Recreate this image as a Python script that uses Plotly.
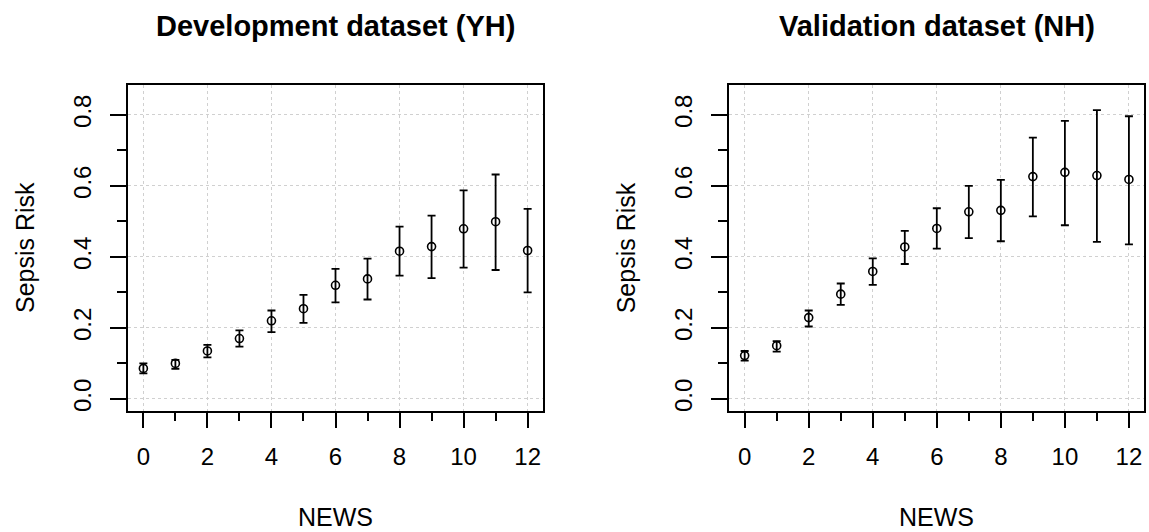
import plotly.graph_objects as go

news = [0, 1, 2, 3, 4, 5, 6, 7, 8, 9, 10, 11, 12]

dev_mean = [0.086, 0.100, 0.135, 0.170, 0.220, 0.254, 0.320, 0.338, 0.416, 0.429, 0.479, 0.499, 0.418]
dev_lower = [0.072, 0.085, 0.117, 0.147, 0.188, 0.214, 0.272, 0.280, 0.347, 0.340, 0.370, 0.363, 0.300]
dev_upper = [0.100, 0.110, 0.152, 0.193, 0.249, 0.293, 0.366, 0.395, 0.485, 0.516, 0.587, 0.632, 0.535]

val_mean = [0.122, 0.150, 0.229, 0.295, 0.359, 0.428, 0.480, 0.527, 0.531, 0.626, 0.638, 0.629, 0.618]
val_lower = [0.108, 0.133, 0.204, 0.265, 0.321, 0.380, 0.423, 0.453, 0.444, 0.514, 0.489, 0.442, 0.435]
val_upper = [0.135, 0.163, 0.249, 0.325, 0.396, 0.473, 0.537, 0.600, 0.617, 0.736, 0.783, 0.813, 0.796]

titles = ["Development dataset (YH)", "Validation dataset (NH)"]
x_label = "NEWS"
y_label = "Sepsis Risk"
x_ticks = [0, 2, 4, 6, 8, 10, 12]
y_ticks = [0.0, 0.2, 0.4, 0.6, 0.8]
y_ticklabels = ["0.0", "0.2", "0.4", "0.6", "0.8"]

W, H = 1149, 532
FONT = "Liberation Sans, Arial, sans-serif"

fig = go.Figure()

panels = [
    (dev_mean, dev_lower, dev_upper, "x", "y"),
    (val_mean, val_lower, val_upper, "x2", "y2"),
]
for mean, lo, hi, xa, ya in panels:
    fig.add_trace(go.Scatter(
        x=news, y=mean, mode="markers", xaxis=xa, yaxis=ya,
        marker=dict(symbol="circle-open", size=8, color="black", line=dict(width=1.6, color="black")),
        error_y=dict(type="data", symmetric=False,
                     array=[h - m for h, m in zip(hi, mean)],
                     arrayminus=[m - l for m, l in zip(mean, lo)],
                     color="black", thickness=1.8, width=4),
        showlegend=False, hoverinfo="skip",
    ))

# pixel geometry of the two plotting boxes
boxes = [(128.0, 543.0), (729.3, 1144.3)]
top_px, bot_px = 85.0, 411.0
ydom = [(H - bot_px) / H, (H - top_px) / H]

def xaxis_cfg(x0, x1, anchor):
    return dict(
        domain=[x0 / W, x1 / W], anchor=anchor,
        range=[-0.48, 12.48], tickmode="array", tickvals=x_ticks,
        ticks="outside", ticklen=15, tickwidth=1.6, tickcolor="black",
        minor=dict(dtick=1, tick0=0, ticks="outside", ticklen=8, tickwidth=1.6, tickcolor="black", showgrid=False),
        showgrid=True, gridcolor="#d0d0d0", griddash="dot", gridwidth=1,
        showline=True, linecolor="black", linewidth=1.8, mirror=True,
        zeroline=False, tickfont=dict(family=FONT, size=24, color="black"),
        ticklabelstandoff=8,
    )

def yaxis_cfg(anchor):
    return dict(
        domain=ydom, anchor=anchor,
        range=[-0.034, 0.884], tickmode="array", tickvals=y_ticks, ticktext=y_ticklabels,
        ticks="outside", ticklen=16, tickwidth=1.6, tickcolor="black",
        minor=dict(dtick=0.1, tick0=0, ticks="outside", ticklen=9, tickwidth=1.6, tickcolor="black", showgrid=False),
        showgrid=True, gridcolor="#d0d0d0", griddash="dot", gridwidth=1,
        showline=True, linecolor="black", linewidth=1.8, mirror=True,
        zeroline=False, tickangle=-90, tickfont=dict(family=FONT, size=24, color="black"),
        ticklabelstandoff=10,
    )

fig.update_layout(
    width=W, height=H, margin=dict(l=0, r=0, t=0, b=0),
    paper_bgcolor="white", plot_bgcolor="white",
    xaxis=xaxis_cfg(*boxes[0], "y"), yaxis=yaxis_cfg("x"),
    xaxis2=xaxis_cfg(*boxes[1], "y2"), yaxis2=yaxis_cfg("x2"),
)

annotations = []
for (x0, x1), t in zip(boxes, titles):
    cx = (x0 + x1) / 2
    annotations.append(dict(text="<b>%s</b>" % t, x=cx / W, y=(H - 26) / H, xref="paper", yref="paper",
                            xanchor="center", yanchor="middle", showarrow=False,
                            font=dict(family=FONT, size=29, color="black")))
    annotations.append(dict(text=x_label, x=cx / W, y=(H - 516.5) / H, xref="paper", yref="paper",
                            xanchor="center", yanchor="middle", showarrow=False,
                            font=dict(family=FONT, size=25, color="black")))
    annotations.append(dict(text=y_label, x=(x0 - 103) / W, y=(H - 248) / H, xref="paper", yref="paper",
                            xanchor="center", yanchor="middle", showarrow=False, textangle=-90,
                            font=dict(family=FONT, size=25, color="black")))
fig.update_layout(annotations=annotations)

fig.write_html("out.html", config={"displayModeBar": False},
               post_script="document.body.style.margin='0px';document.body.style.overflow='hidden';")
